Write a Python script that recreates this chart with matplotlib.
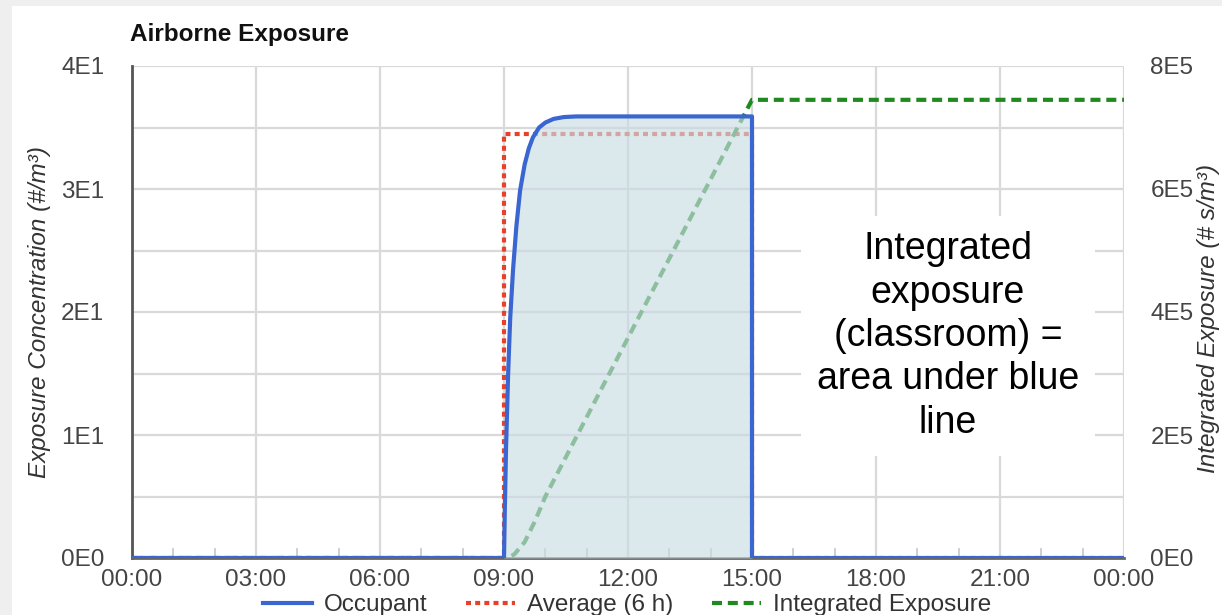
import matplotlib
matplotlib.use("Agg")
import matplotlib.pyplot as plt
from matplotlib.lines import Line2D
from matplotlib.patches import Rectangle

plt.rcParams['font.family'] = ['Liberation Sans', 'DejaVu Sans']

# ---- data ----
occ_hours = [0, 9.0, 9.02, 9.05, 9.1, 9.15, 9.22, 9.3, 9.39, 9.5, 9.6, 9.7,
             9.85, 10.0, 10.2, 10.45, 10.75, 15.0, 15.0, 24]
occupant = [0, 0, 4, 9, 15, 19.5, 23.5, 27, 29.9, 32.0, 33.3, 34.2,
            35.0, 35.4, 35.7, 35.85, 35.9, 35.9, 0, 0]

avg_hours = [0, 9.0, 9.0, 15.0, 15.0, 24]
average_6h = [0, 0, 34.5, 34.5, 0, 0]

int_hours = [0, 9.0, 9.1, 9.25, 9.5, 9.75, 10, 11, 12, 13, 14, 15, 24]
integrated = [0, 0, 600, 6000, 2.6e4, 6.0e4, 1.0e5, 2.29e5, 3.58e5,
              4.87e5, 6.16e5, 7.45e5, 7.45e5]

x_ticks = [0, 3, 6, 9, 12, 15, 18, 21, 24]
x_labels = ["00:00", "03:00", "06:00", "09:00", "12:00", "15:00",
            "18:00", "21:00", "00:00"]
left_ticks = [0, 10, 20, 30, 40]
left_labels = ["0E0", "1E1", "2E1", "3E1", "4E1"]
right_ticks = [0, 2e5, 4e5, 6e5, 8e5]
right_labels = ["0E0", "2E5", "4E5", "6E5", "8E5"]

W, H = 1222, 615
fig = plt.figure(figsize=(W / 100, H / 100), dpi=100)
fig.patch.set_facecolor('#efefef')
fig.patches.append(Rectangle((12 / W, 0), 1, 1 - 6 / H, transform=fig.transFigure,
                             facecolor='white', edgecolor='none', zorder=-10))

ax = fig.add_axes([132 / W, (H - 558) / H, (1124 - 132) / W, (558 - 66) / H])
ax.set_facecolor('none')
ax.set_xlim(0, 24)
ax.set_ylim(0, 40)

grid_c = '#d9d9d9'
for v in range(5, 40, 5):
    ax.axhline(v, color=grid_c, lw=1.6, zorder=1)
ax.axhline(40, color=grid_c, lw=1.6, zorder=1)
for h in x_ticks[1:]:
    ax.axvline(h, color=grid_c, lw=1.6, zorder=1)

# hour tick marks along the bottom
for h in range(1, 24):
    if h % 3:
        ax.plot([h, h], [0, 0.7], color='#cccccc', lw=1.3, zorder=1)

tc = '#444444'
ax.set_xticks(x_ticks)
ax.set_xticklabels(x_labels, fontsize=17.5, color=tc)
ax.set_yticks(left_ticks)
ax.set_yticklabels(left_labels, fontsize=17.5, color=tc)
ax.tick_params(axis='x', length=0, pad=8)
ax.tick_params(axis='y', length=0, pad=20)
for s in ['top', 'right']:
    ax.spines[s].set_visible(False)
ax.spines['left'].set_color('#555555')
ax.spines['left'].set_linewidth(2)
ax.spines['bottom'].set_color('#666666')
ax.spines['bottom'].set_linewidth(2)
ax.spines['left'].set_zorder(6)
ax.spines['bottom'].set_zorder(6)

ax.set_ylabel("Exposure Concentration (#/m³)", fontsize=17.5, style='italic',
              color='#333333', labelpad=7)

ax2 = ax.twinx()
ax2.set_ylim(0, 8e5)
ax2.set_yticks(right_ticks)
ax2.set_yticklabels(right_labels, fontsize=17.5, color=tc)
ax2.tick_params(axis='y', length=0, pad=19)
for s in ax2.spines.values():
    s.set_visible(False)

fig.text(1208 / W, 1 - 318 / H, "Integrated Exposure (# s/m³)", fontsize=17.5,
         style='italic', color='#333333', rotation=90, ha='center', va='center')

blue = '#3a66d1'
red = '#e8412a'
green = '#1f8a1f'

ax.plot(avg_hours, average_6h, color=red, lw=3, linestyle=(0, (1.2, 1.0)),
        zorder=3)
ax2.plot(int_hours, integrated, color=green, lw=3, linestyle=(0, (2.4, 1.4)),
         zorder=3)
ax2.fill_between(occ_hours, [v * 2e4 for v in occupant], 0, color='#c9dce3',
                 alpha=0.65, lw=0, zorder=4)
ax2.plot(occ_hours, [v * 2e4 for v in occupant], color=blue, lw=3, zorder=5,
         solid_joinstyle='round')

ax2.text(948 / W, 1 - 336 / H, "Integrated\nexposure\n(classroom) =\narea under blue\nline",
         transform=fig.transFigure, ha='center', va='center', fontsize=27,
         linespacing=1.26, color='black', zorder=10,
         bbox=dict(boxstyle='square,pad=0.42', facecolor='white', edgecolor='none'))

fig.text(130 / W, 1 - 34 / H, "Airborne Exposure", fontsize=17.5,
         fontweight='bold', color='#111111', ha='left', va='center')

handles = [Line2D([], [], color=blue, lw=3),
           Line2D([], [], color=red, lw=3, linestyle=(0, (1.2, 1.0))),
           Line2D([], [], color=green, lw=3, linestyle=(0, (2.4, 1.4)))]
fig.legend(handles, ["Occupant", "Average (6 h)", "Integrated Exposure"],
           loc='center', bbox_to_anchor=(627 / W, 1 - 605 / H), ncol=3,
           frameon=False, fontsize=17.5, handlelength=2.0, handletextpad=0.5,
           columnspacing=1.6, labelcolor='#333333')

fig.savefig("out.png", dpi=100, facecolor=fig.get_facecolor())
